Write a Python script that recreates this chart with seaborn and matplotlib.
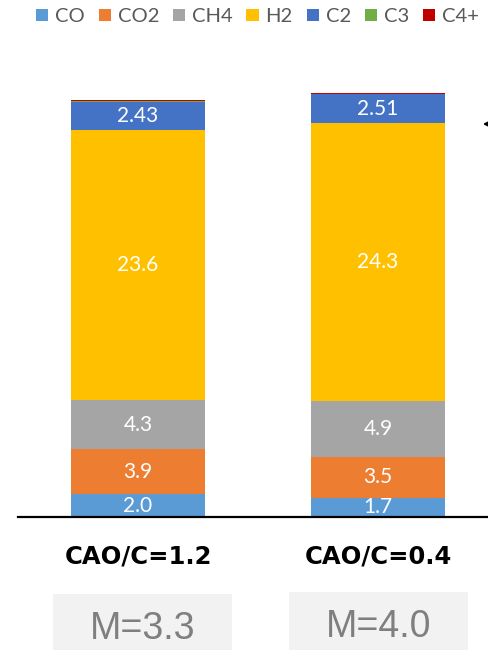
import matplotlib
matplotlib.use("Agg")
import matplotlib.pyplot as plt
from matplotlib.patches import Patch, Rectangle
import seaborn as sns
import pandas as pd

# Gas composition for two CaO/C ratios
categories = ["CAO/C=1.2", "CAO/C=0.4"]
species = ["CO", "CO2", "CH4", "H2", "C2", "C3", "C4+"]
co = [2.0, 1.7]
co2 = [3.9, 3.5]
ch4 = [4.3, 4.9]
h2 = [23.6, 24.3]
c2 = [2.43, 2.51]
c3 = [0.12, 0.02]
c4 = [0.06, 0.08]
m_labels = ["M=3.3", "M=4.0"]
labelled = {"CO": "{:.1f}", "CO2": "{:.1f}", "CH4": "{:.1f}", "H2": "{:.1f}", "C2": "{:.2f}"}

colors = ["#5b9bd5", "#ed7d31", "#a5a5a5", "#ffc000", "#4472c4", "#70ad47", "#c00000"]
series = [co, co2, ch4, h2, c2, c3, c4]

sns.set_theme(style="white")
plt.rcParams["font.family"] = ["Lato", "DejaVu Sans"]

W, H = 488, 650
fig = plt.figure(figsize=(W / 100, H / 100), dpi=100)
# axes: left edge at x=18px, baseline at y=517px, top at y=40px
ax = fig.add_axes([18 / W, (H - 517) / H, 1 - 18 / W, (517 - 40) / H])

bottom = [0.0, 0.0]
for name, vals, col in zip(species, series, colors):
    df = pd.DataFrame({"cat": categories, "val": vals})
    sns.barplot(data=df, x="cat", y="val", color=col, width=0.558,
                bottom=bottom, ax=ax, saturation=1, linewidth=0, errorbar=None)
    if name in labelled:
        for i, v in enumerate(vals):
            ax.text(i, bottom[i] + v / 2, labelled[name].format(v), ha="center",
                    va="center", color="white", fontsize=15)
    bottom = [b + v for b, v in zip(bottom, vals)]

ax.set_xlim(-0.5, 1.458)
ax.set_ylim(0, (517 - 40) / 11.45)
ax.set_xlabel("")
ax.set_ylabel("")
ax.set_yticks([])
ax.set_xticks([])
for s in ["top", "right", "left"]:
    ax.spines[s].set_visible(False)
ax.spines["bottom"].set_color("black")
ax.spines["bottom"].set_linewidth(1.6)

# category labels
for i, c in enumerate(categories):
    ax.text(i, -39 / 11.45, c, ha="center", va="center", fontsize=17.5,
            fontweight="bold", color="black", family="DejaVu Sans")

# M boxes
boxes = [(53, 594), (289, 592)]
for (bx, by), lab in zip(boxes, m_labels):
    fig.patches.append(Rectangle((bx / W, 0), 179 / W, (H - by) / H,
                                 transform=fig.transFigure, facecolor="#f2f2f2",
                                 edgecolor="none"))
    fig.text((bx + 90) / W, (H - (by + 35)) / H, lab, ha="center", va="center",
             fontsize=27, color="#7f7f7f", family="Liberation Sans")

# legend
handles = [Patch(facecolor=c, edgecolor="none", label=s) for s, c in zip(species, colors)]
fig.legend(handles=handles, loc="upper left", bbox_to_anchor=(36 / W, 1.0 - 8 / H),
           ncol=7, frameon=False, fontsize=14.5, handlelength=0.6, handleheight=0.6,
           handletextpad=0.35, columnspacing=0.68, borderpad=0, borderaxespad=0,
           labelcolor="#595959")

# pointer arrow at the right edge
fig.add_artist(plt.Annotation("", xy=(480 / W, (H - 124) / H), xycoords="figure fraction",
                              xytext=(520 / W, (H - 124) / H), textcoords="figure fraction",
                              arrowprops=dict(arrowstyle="->", color="black", lw=1.5)))

fig.savefig("out.png", dpi=100)
